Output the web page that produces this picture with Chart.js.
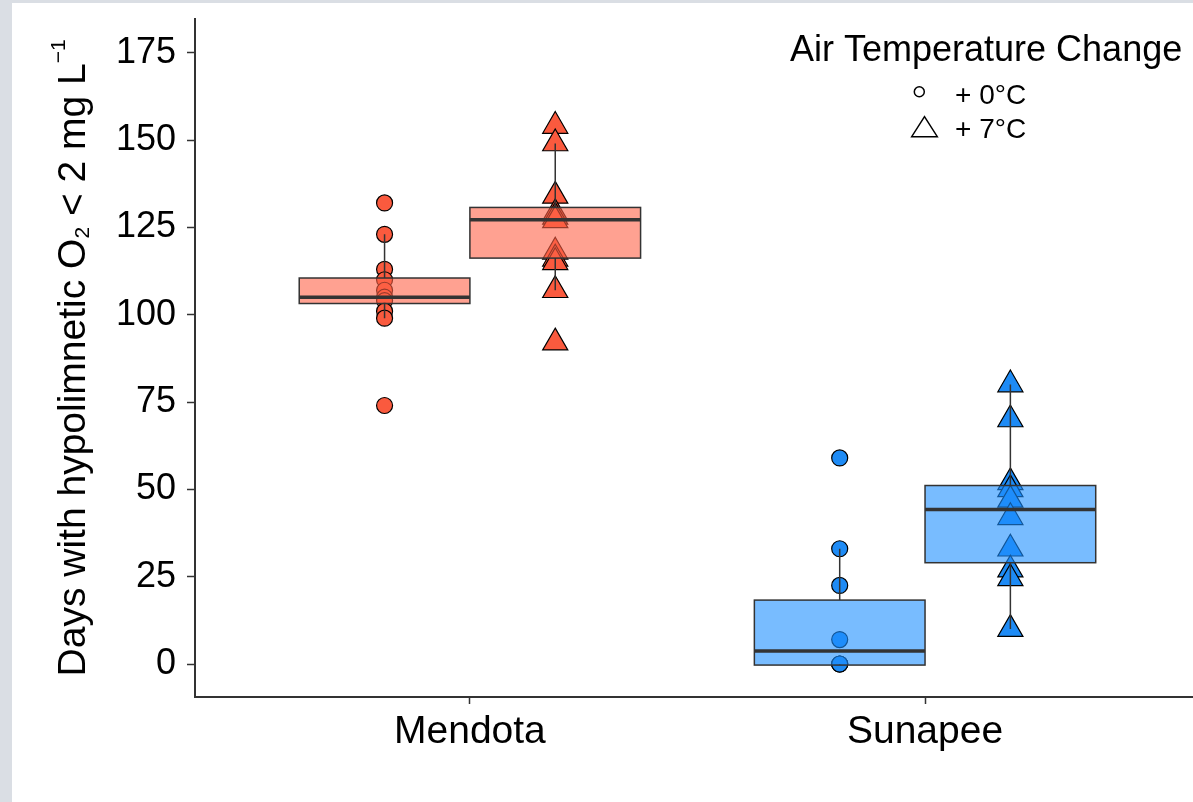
<!DOCTYPE html>
<html>
<head>
<meta charset="utf-8">
<script src="https://cdn.jsdelivr.net/npm/chart.js"></script>
<style>
  html, body { margin: 0; padding: 0; width: 1193px; height: 802px; overflow: hidden; background: #dadee4; }
  #wrap { position: absolute; left: 12px; top: 3px; width: 1200px; height: 799px; background: #fff; }
</style>
</head>
<body>
<div id="wrap"><canvas id="myChart" width="1200" height="799"></canvas></div>
<script>
const lakes = ['Mendota', 'Sunapee'];
const tempLabels = ['+ 0°C', '+ 7°C'];
const legendTitle = 'Air Temperature Change';
const yTicks = [0, 25, 50, 75, 100, 125, 150, 175];

// days with hypolimnetic O2 < 2 mg/L, one value per run
const mendota0 = [132, 123, 113, 110, 107, 105, 104, 101, 99, 74];
const mendota7 = [154, 149, 134, 129, 128, 127, 118, 116, 115, 107, 92];
const sunapee0 = [59, 33, 22.5, 7, 0, 0, 0];
const sunapee7 = [80, 70, 52, 50, 47, 42, 33, 27, 24.5, 10];

// box stats: [lower whisker, q1, median, q3, upper whisker]
const mendota0Box = [99, 103.2, 105, 110.5, 123];
const mendota7Box = [107, 116.2, 127.2, 130.7, 149];
const sunapee0Box = [0, -0.3, 3.7, 18.3, 33];
const sunapee7Box = [10, 29, 44.2, 51.1, 80];

const lakeColors = ['#FA5A3E', '#1E8BF5'];
const boxColors = ['rgba(255,99,71,0.6)', 'rgba(30,144,255,0.6)'];
const dodge = 0.1875;
const FONT = '"Liberation Sans", Arial, sans-serif';

const groups = [
  {lake: 0, temp: 0, vals: mendota0, box: mendota0Box},
  {lake: 0, temp: 1, vals: mendota7, box: mendota7Box},
  {lake: 1, temp: 0, vals: sunapee0, box: sunapee0Box},
  {lake: 1, temp: 1, vals: sunapee7, box: sunapee7Box}
];
const xPos = g => g.lake + 1 + (g.temp === 0 ? -dodge : dodge);

const datasets = tempLabels.map((lab, t) => {
  const gs = groups.filter(g => g.temp === t);
  const data = [], colors = [];
  gs.forEach(g => g.vals.forEach(v => { data.push({x: xPos(g), y: v}); colors.push(lakeColors[g.lake]); }));
  return {
    label: lab,
    data: data,
    backgroundColor: colors,
    borderColor: '#000',
    borderWidth: 1.2,
    pointStyle: t === 0 ? 'circle' : 'triangle',
    pointRadius: t === 0 ? 8 : 14.5
  };
});

// boxes go over the points, like the ggplot layer order
const boxPlugin = {
  id: 'boxes',
  afterDatasetsDraw(chart) {
    const ctx = chart.ctx, xs = chart.scales.x, ys = chart.scales.y;
    const half = xs.getPixelForValue(1 + dodge) - xs.getPixelForValue(1);
    groups.forEach(g => {
      const cx = xs.getPixelForValue(xPos(g));
      const [lo, q1, med, q3, hi] = g.box.map(v => ys.getPixelForValue(v));
      ctx.save();
      ctx.strokeStyle = '#333';
      ctx.lineWidth = 1.5;
      ctx.beginPath();
      ctx.moveTo(cx, q3); ctx.lineTo(cx, hi);
      ctx.moveTo(cx, q1); ctx.lineTo(cx, lo);
      ctx.stroke();
      ctx.fillStyle = boxColors[g.lake];
      ctx.fillRect(cx - half, q3, half * 2, q1 - q3);
      ctx.strokeRect(cx - half, q3, half * 2, q1 - q3);
      ctx.lineWidth = 3.5;
      ctx.beginPath();
      ctx.moveTo(cx - half, med); ctx.lineTo(cx + half, med);
      ctx.stroke();
      ctx.restore();
    });
  }
};

// y title with subscript / superscript
const yTitlePlugin = {
  id: 'ytitle',
  afterDraw(chart) {
    const ctx = chart.ctx, area = chart.chartArea;
    const big = '39px ' + FONT, small = '21px ' + FONT;
    const parts = [
      {t: 'Days with hypolimnetic O', f: big, dy: 0},
      {t: '2', f: small, dy: 4},
      {t: ' < 2 mg L', f: big, dy: 0},
      {t: '\u22121', f: small, dy: -20}
    ];
    let total = 0;
    parts.forEach(p => { ctx.font = p.f; p.w = ctx.measureText(p.t).width; total += p.w; });
    ctx.save();
    ctx.translate(73, (area.top + area.bottom) / 2);
    ctx.rotate(-Math.PI / 2);
    ctx.fillStyle = '#000';
    ctx.textBaseline = 'alphabetic';
    ctx.textAlign = 'left';
    let x = -total / 2;
    parts.forEach(p => { ctx.font = p.f; ctx.fillText(p.t, x, p.dy); x += p.w; });
    ctx.restore();
  }
};

const legendPlugin = {
  id: 'shapeLegend',
  afterDraw(chart) {
    const ctx = chart.ctx;
    ctx.save();
    ctx.fillStyle = '#000';
    ctx.textAlign = 'left';
    ctx.textBaseline = 'alphabetic';
    ctx.font = '36px ' + FONT;
    ctx.fillText(legendTitle, 778, 57.5);
    ctx.font = '28px ' + FONT;
    ctx.fillText(tempLabels[0], 943, 100.5);
    ctx.fillText(tempLabels[1], 943, 134.5);
    ctx.strokeStyle = '#000';
    ctx.lineWidth = 1.5;
    ctx.fillStyle = '#fff';
    ctx.beginPath();
    ctx.arc(907.3, 88.7, 5, 0, Math.PI * 2);
    ctx.fill(); ctx.stroke();
    ctx.beginPath();
    ctx.moveTo(912.5, 113.7);
    ctx.lineTo(925.3, 133.7);
    ctx.lineTo(899.7, 133.7);
    ctx.closePath();
    ctx.fill(); ctx.stroke();
    ctx.restore();
  }
};

const noPad = s => { s.paddingTop = 0; s.paddingBottom = 0; s.paddingLeft = 0; s.paddingRight = 0; };

const ctx = document.getElementById('myChart').getContext('2d');
new Chart(ctx, {
  type: 'scatter',
  data: { datasets: datasets },
  options: {
    responsive: false,
    animation: false,
    events: [],
    layout: { padding: { left: 0, right: 6, top: 15, bottom: 0 } },
    plugins: { legend: { display: false }, tooltip: { enabled: false } },
    scales: {
      x: {
        type: 'linear',
        min: 0.396,
        max: 2.596,
        afterBuildTicks: s => { s.ticks = lakes.map((_, i) => ({ value: i + 1 })); },
        afterFit: s => { s.height = 105; noPad(s); },
        ticks: {
          callback: (v, i) => lakes[i],
          font: { family: FONT, size: 39 },
          color: '#000',
          padding: 5,
          maxRotation: 0,
          autoSkip: false
        },
        grid: { drawOnChartArea: false, tickLength: 7, tickColor: '#333', tickWidth: 1.5 },
        border: { color: '#333', width: 2 }
      },
      y: {
        min: -9.44,
        max: 184.73,
        afterBuildTicks: s => { s.ticks = yTicks.map(v => ({ value: v })); },
        afterFit: s => { s.width = 183; noPad(s); },
        ticks: {
          font: { family: FONT, size: 36 },
          color: '#000',
          padding: 11
        },
        grid: { drawOnChartArea: false, tickLength: 8, tickColor: '#333', tickWidth: 1.5 },
        border: { color: '#333', width: 2 }
      }
    }
  },
  plugins: [boxPlugin, yTitlePlugin, legendPlugin]
});
</script>
</body>
</html>
